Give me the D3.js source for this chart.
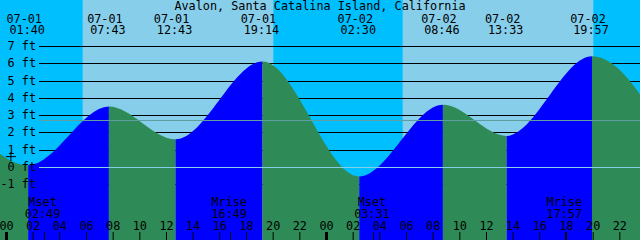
<!DOCTYPE html>
<html>
<head>
<meta charset="utf-8">
<script src="https://cdn.jsdelivr.net/npm/d3@7"></script>
<style>
  body { margin: 0; background: #fff; }
  svg { display: block; }
  text { font-family: "DejaVu Sans Mono", monospace; font-size: 11.8px; fill: #000; }
</style>
</head>
<body>
<div id="chart"></div>
<script>
const title = "Avalon, Santa Catalina Island, California";

// tide highs and lows (first and last lie just outside the window)
const tideTimes = ["2024-06-30 18:25", "2024-07-01 01:40", "2024-07-01 07:43", "2024-07-01 12:43",
  "2024-07-01 19:14", "2024-07-02 02:30", "2024-07-02 08:46", "2024-07-02 13:33",
  "2024-07-02 19:57", "2024-07-03 03:20"];
const tideLevels = [5.9, 0.1, 3.5, 1.6, 6.1, -0.55, 3.6, 1.8, 6.4, -1.0];

const sunriseTimes = ["2024-07-01 05:45", "2024-07-02 05:45"];
const sunsetTimes = ["2024-07-01 20:03", "2024-07-02 20:03"];

const moonNames = ["Mset", "Mrise", "Mset", "Mrise"];
const moonTimes = ["2024-07-01 02:49", "2024-07-01 16:49", "2024-07-02 03:31", "2024-07-02 17:57"];

const depthTicks = [-1, 0, 1, 2, 3, 4, 5, 6, 7];
const meanLevel = 2.7;
const nowTime = "2024-07-01 00:22";
const nowLevel = 0.6;
const windowStart = "2024-06-30 23:33";
const windowEnd = "2024-07-02 23:33";

const width = 640, height = 240;
const parse = d3.utcParse("%Y-%m-%d %H:%M");

const tides = tideTimes.map((t, i) => ({t: parse(t), h: tideLevels[i]}));

let x = d3.scaleUtc()
  .domain([parse(windowStart), parse(windowEnd)])
  .range([0, width]);
let y = d3.scaleLinear()
  .domain([0, 7])
  .range([167, 46]);

let svg = d3.select("#chart")
  .append("svg")
  .attr("width", width)
  .attr("height", height);

// night background, then day bands
svg.append("rect")
  .attr("width", width)
  .attr("height", height)
  .attr("fill", "#00bfff");

svg.selectAll("rect.day")
  .data(sunriseTimes)
  .enter()
  .append("rect")
  .attr("class", "day")
  .attr("x", d => x(parse(d)))
  .attr("y", 0)
  .attr("width", (d, i) => x(parse(sunsetTimes[i])) - x(parse(d)))
  .attr("height", height)
  .attr("fill", "#87ceeb");

// depth lines (covered by the water)
svg.selectAll("line.depth")
  .data(depthTicks)
  .enter()
  .append("line")
  .attr("class", "depth")
  .attr("x1", 39)
  .attr("x2", width)
  .attr("y1", d => Math.round(y(d)) + 0.5)
  .attr("y2", d => Math.round(y(d)) + 0.5)
  .attr("stroke", "#000")
  .attr("stroke-width", 1);

// tide curve used as a clip, then flood / ebb colouring
let area = d3.area()
  .x(d => x(d.t))
  .y0(height)
  .y1(d => y(d.h))
  .curve(d3.curveMonotoneX);

svg.append("clipPath")
  .attr("id", "tide-clip")
  .append("path")
  .datum(tides)
  .attr("d", area);

svg.selectAll("rect.tide")
  .data(tides.slice(0, -1))
  .enter()
  .append("rect")
  .attr("class", "tide")
  .attr("clip-path", "url(#tide-clip)")
  .attr("x", d => x(d.t))
  .attr("y", 0)
  .attr("width", (d, i) => x(tides[i + 1].t) - x(d.t))
  .attr("height", height)
  .attr("fill", (d, i) => tides[i + 1].h > d.h ? "#0000ff" : "#2e8b57");

// mean level and datum lines
svg.append("line")
  .attr("x1", 39)
  .attr("x2", width)
  .attr("y1", Math.round(y(meanLevel)) + 0.5)
  .attr("y2", Math.round(y(meanLevel)) + 0.5)
  .attr("stroke", "#5f9ea0");

svg.append("line")
  .attr("x1", 39)
  .attr("x2", width)
  .attr("y1", Math.round(y(0)) + 0.5)
  .attr("y2", Math.round(y(0)) + 0.5)
  .attr("stroke", "#87ceeb");

// depth labels
svg.selectAll("text.depth")
  .data(depthTicks)
  .enter()
  .append("text")
  .attr("class", "depth")
  .attr("x", 36)
  .attr("y", d => y(d) + 4)
  .attr("text-anchor", "end")
  .text(d => d + " ft");

// title
svg.append("text")
  .attr("x", width / 2)
  .attr("y", 10)
  .attr("text-anchor", "middle")
  .text(title);

// high / low labels across the top
let shown = tides.slice(1, -1);
let fmtDate = d3.utcFormat("%m-%d"), fmtTime = d3.utcFormat("%H:%M");
svg.selectAll("text.tdate")
  .data(shown)
  .enter()
  .append("text")
  .attr("x", d => x(d.t) - 4)
  .attr("y", 22.5)
  .attr("text-anchor", "middle")
  .text(d => fmtDate(d.t));
svg.selectAll("text.ttime")
  .data(shown)
  .enter()
  .append("text")
  .attr("x", d => x(d.t) - 1)
  .attr("y", 34)
  .attr("text-anchor", "middle")
  .text(d => fmtTime(d.t));

// moon events
svg.selectAll("text.mname")
  .data(moonTimes)
  .enter()
  .append("text")
  .attr("x", d => x(parse(d)) - 1)
  .attr("y", 206)
  .attr("text-anchor", "middle")
  .text((d, i) => moonNames[i]);
svg.selectAll("text.mtime")
  .data(moonTimes)
  .enter()
  .append("text")
  .attr("x", d => x(parse(d)) - 1)
  .attr("y", 217.5)
  .attr("text-anchor", "middle")
  .text(d => fmtTime(parse(d)));
svg.selectAll("line.moon")
  .data(moonTimes)
  .enter()
  .append("line")
  .attr("x1", d => Math.round(x(parse(d))) + 0.5)
  .attr("x2", d => Math.round(x(parse(d))) + 0.5)
  .attr("y1", 232)
  .attr("y2", height)
  .attr("stroke", "#000");

// hour axis along the bottom
let axis = svg.append("g")
  .attr("transform", `translate(0, ${height})`)
  .call(d3.axisTop(x)
    .ticks(d3.utcHour.every(2))
    .tickFormat(d3.utcFormat("%H"))
    .tickSize(8)
    .tickPadding(2));
axis.select(".domain").remove();
axis.selectAll("text")
  .attr("font-family", null)
  .attr("font-size", null)
  .style("font-family", "DejaVu Sans Mono, monospace")
  .style("font-size", "11.8px")
  .attr("fill", "#000");
axis.selectAll("line")
  .attr("stroke", "#000")
  .attr("stroke-width", d => d.getUTCHours() === 0 ? 3 : 1);

// current time marker
let nx = x(parse(nowTime)), ny = y(nowLevel);
svg.append("path")
  .attr("d", `M${nx - 5},${ny}H${nx + 5}M${nx},${ny - 4.5}V${ny + 4.5}`)
  .attr("stroke", "#000")
  .attr("fill", "none");
</script>
</body>
</html>
